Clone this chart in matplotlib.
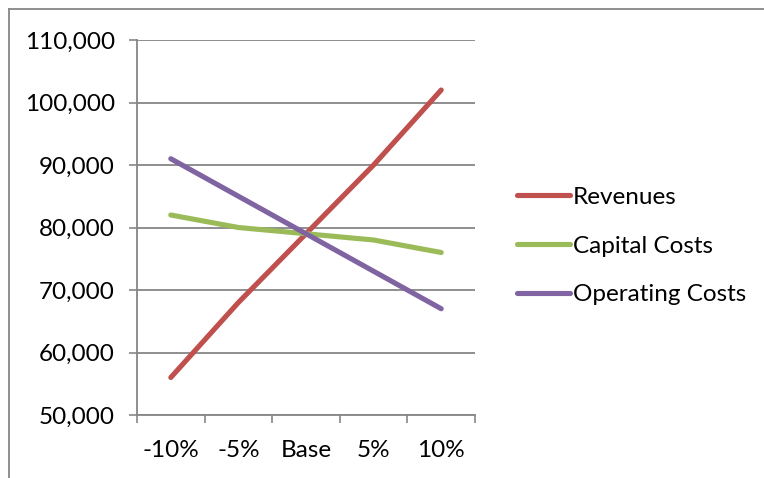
import matplotlib.pyplot as plt
from matplotlib.lines import Line2D
from matplotlib.ticker import FuncFormatter

plt.rcParams["font.family"] = ["Lato", "DejaVu Sans"]

categories = ["-10%", "-5%", "Base", "5%", "10%"]
revenues = [56000, 68000, 79000, 90000, 102000]
capital_costs = [82000, 80000, 79000, 78000, 76000]
operating_costs = [91000, 85000, 79000, 73000, 67000]

grey = "#868686"

fig = plt.figure(figsize=(7.64, 4.78), dpi=100)
ax = fig.add_axes([137 / 764, 1 - 415 / 478, (475 - 137) / 764, (415 - 40) / 478])

x = list(range(len(categories)))
ax.plot(x, revenues, color="#C0504D", lw=3.7, solid_capstyle="round", label="Revenues")
ax.plot(x, capital_costs, color="#9BBB59", lw=3.7, solid_capstyle="round", label="Capital Costs")
ax.plot(x, operating_costs, color="#8064A2", lw=3.7, solid_capstyle="round", label="Operating Costs")

ax.set_xlim(-0.5, len(categories) - 0.5)
ax.set_ylim(50000, 110000)
ax.set_yticks(range(50000, 110001, 10000))
ax.yaxis.set_major_formatter(FuncFormatter(lambda v, p: f"{int(v):,}"))

# tick marks between categories, labels in the middle
ax.set_xticks([i - 0.5 for i in range(len(categories) + 1)])
ax.set_xticklabels([])
ax.set_xticks(x, minor=True)
ax.set_xticklabels(categories, minor=True)
ax.tick_params(axis="x", which="major", length=6, width=1.2, color=grey, direction="out")
ax.tick_params(axis="x", which="minor", length=0, pad=18, labelsize=17.5)
ax.tick_params(axis="y", length=6, width=1.2, color=grey, pad=10, labelsize=17.5)

ax.grid(axis="y", color=grey, lw=1.3)
ax.set_axisbelow(True)
for s in ["top", "right"]:
    ax.spines[s].set_visible(False)
for s in ["left", "bottom"]:
    ax.spines[s].set_color(grey)
    ax.spines[s].set_linewidth(1.3)

fig.legend(loc="center left", bbox_to_anchor=(495 / 764, 1 - 246 / 478), frameon=False,
           fontsize=17.5, handlelength=2.2, handletextpad=0.1, labelspacing=1.15)

# chart area border (only left and top visible)
fig.add_artist(Line2D([9 / 764, 9 / 764], [0, 1 - 9 / 478], color=grey, lw=1.3))
fig.add_artist(Line2D([9 / 764, 1], [1 - 9 / 478, 1 - 9 / 478], color=grey, lw=1.3))

fig.savefig("out.png", dpi=100)
